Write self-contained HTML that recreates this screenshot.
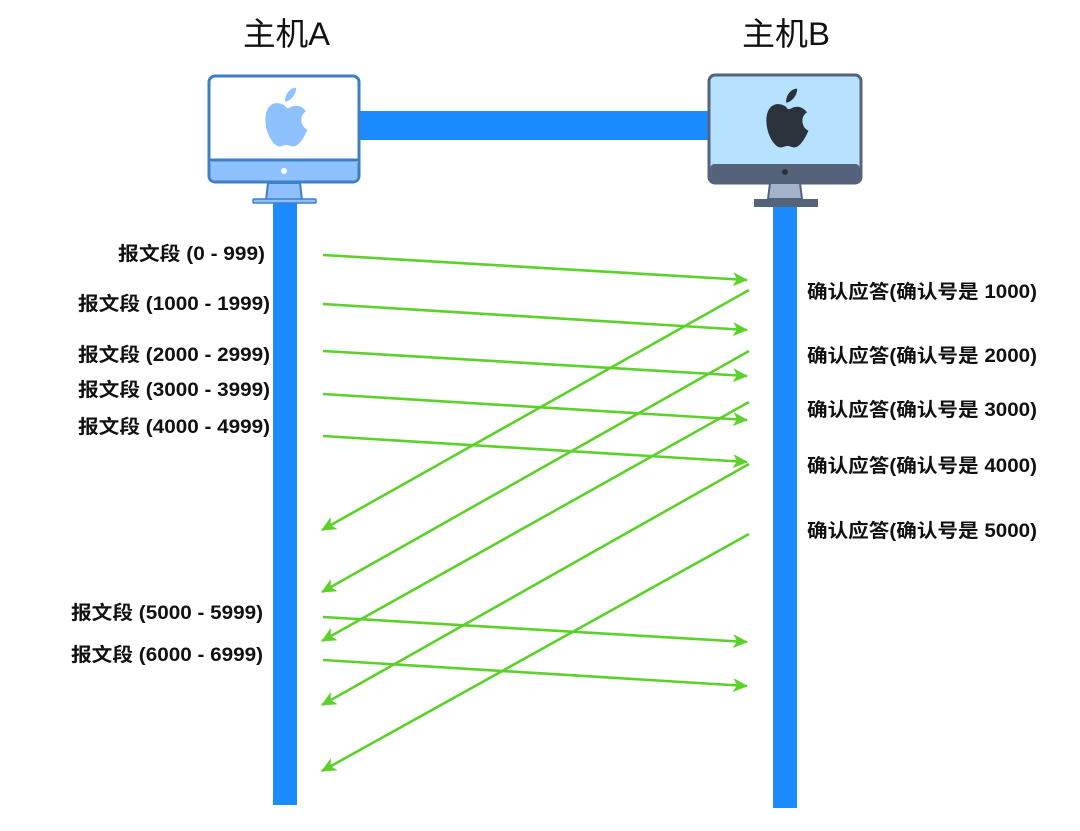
<!DOCTYPE html>
<html><head><meta charset="utf-8"><style>
body{margin:0;background:#fff;}
svg text{font-family:"Liberation Sans","Noto Sans CJK SC",sans-serif;}
</style></head><body>
<svg width="1080" height="826" viewBox="0 0 1080 826">
<defs>
<marker id="ah" markerWidth="16" markerHeight="14" refX="14" refY="7" orient="auto" markerUnits="userSpaceOnUse">
<path d="M0,0 L15,7 L0,14 L4,7 z" fill="#5cd12a"/></marker>
</defs>
<text x="243" y="45" font-size="32" textLength="87" lengthAdjust="spacingAndGlyphs" fill="#111">主机A</text>
<text x="742" y="45" font-size="32" textLength="88" lengthAdjust="spacingAndGlyphs" fill="#111">主机B</text>
<rect x="273" y="198" width="24" height="607" fill="#1a8cff"/>
<rect x="773" y="204" width="24" height="604" fill="#1a8cff"/>
<rect x="358" y="111" width="354" height="29" fill="#1a8cff"/>
<rect x="209" y="76" width="150" height="106" rx="6" fill="#fff" stroke="#3f7fc6" stroke-width="3"/>
<rect x="210.5" y="160" width="147" height="20.5" rx="4" fill="#8fc1ff"/>
<line x1="209" y1="160" x2="359" y2="160" stroke="#3f7fc6" stroke-width="3"/>
<circle cx="284" cy="171" r="3" fill="#fff"/>
<path d="M268,183 L300,183 L302,200 L266,200 z" fill="#8fc1ff" stroke="#3f7fc6" stroke-width="2"/>
<rect x="253" y="199" width="63" height="4" rx="1" fill="#8fc1ff" stroke="#3f7fc6" stroke-width="1.5"/>
<g transform="translate(285,117) scale(1.4) translate(-284,-111)">
<path d="M284,100 c3,0 8,-4 8,-10 c-4,0 -8,4 -8,10z M284,103 c-6,-4 -14,-2 -14,10 c0,10 6,19 10,19 c2,0 3,-1 5,-1 c2,0 3,1 5,1 c4,0 8,-7 10,-12 c-5,-2 -6,-10 -1,-13 c-3,-4 -7,-5 -11,-3 c-2,1 -3,1 -4,-1z" fill="#8fc1ff"/></g>
<rect x="709" y="75" width="152" height="108" rx="6" fill="#b6e2ff" stroke="#55637a" stroke-width="3"/>
<rect x="710.5" y="164" width="149" height="17.5" rx="4" fill="#55637a"/>
<circle cx="785" cy="172" r="3" fill="#2a323c"/>
<path d="M770,183 L800,183 L802,199 L768,199 z" fill="#a3b4ca" stroke="#55637a" stroke-width="2"/>
<rect x="754" y="199" width="64" height="8" fill="#55637a"/>
<g transform="translate(786,118) scale(1.4) translate(-785,-112)">
<path d="M785,101 c3,0 8,-4 8,-10 c-4,0 -8,4 -8,10z M785,104 c-6,-4 -14,-2 -14,10 c0,10 6,19 10,19 c2,0 3,-1 5,-1 c2,0 3,1 5,1 c4,0 8,-7 10,-12 c-5,-2 -6,-10 -1,-13 c-3,-4 -7,-5 -11,-3 c-2,1 -3,1 -4,-1z" fill="#2a323c"/></g>
<g stroke="#5cd12a" stroke-width="2.6" fill="none" marker-end="url(#ah)">
<line x1="323" y1="255" x2="747" y2="280"/>
<line x1="323" y1="304" x2="747" y2="330"/>
<line x1="323" y1="351" x2="747" y2="376"/>
<line x1="323" y1="394" x2="747" y2="420"/>
<line x1="323" y1="436" x2="747" y2="462"/>
<line x1="323" y1="617" x2="747" y2="642"/>
<line x1="323" y1="660" x2="747" y2="686"/>
<line x1="749" y1="290" x2="322" y2="530"/>
<line x1="749" y1="351" x2="322" y2="592"/>
<line x1="749" y1="402" x2="322" y2="641"/>
<line x1="749" y1="464" x2="322" y2="705"/>
<line x1="749" y1="534" x2="322" y2="771"/>
</g>
<g font-size="19" font-weight="bold" fill="#111">
<text x="118" y="260" textLength="147" lengthAdjust="spacingAndGlyphs">报文段 (0 - 999)</text>
<text x="78" y="310" textLength="192" lengthAdjust="spacingAndGlyphs">报文段 (1000 - 1999)</text>
<text x="78" y="361" textLength="192" lengthAdjust="spacingAndGlyphs">报文段 (2000 - 2999)</text>
<text x="78" y="396" textLength="192" lengthAdjust="spacingAndGlyphs">报文段 (3000 - 3999)</text>
<text x="78" y="433" textLength="192" lengthAdjust="spacingAndGlyphs">报文段 (4000 - 4999)</text>
<text x="71" y="619" textLength="192" lengthAdjust="spacingAndGlyphs">报文段 (5000 - 5999)</text>
<text x="71" y="661" textLength="192" lengthAdjust="spacingAndGlyphs">报文段 (6000 - 6999)</text>
<text x="807" y="298" textLength="230" lengthAdjust="spacingAndGlyphs">确认应答(确认号是 1000)</text>
<text x="807" y="362" textLength="230" lengthAdjust="spacingAndGlyphs">确认应答(确认号是 2000)</text>
<text x="807" y="416" textLength="230" lengthAdjust="spacingAndGlyphs">确认应答(确认号是 3000)</text>
<text x="807" y="472" textLength="230" lengthAdjust="spacingAndGlyphs">确认应答(确认号是 4000)</text>
<text x="807" y="537" textLength="230" lengthAdjust="spacingAndGlyphs">确认应答(确认号是 5000)</text>
</g>
</svg>
</body></html>
